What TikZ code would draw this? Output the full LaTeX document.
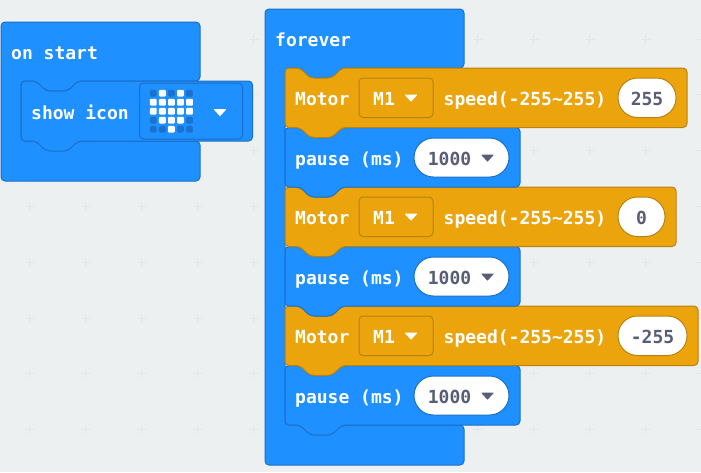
\documentclass[tikz,border=0pt]{standalone}
\usepackage{fontspec}
\setmainfont{DejaVu Sans Mono}[BoldFont={DejaVu Sans Mono Bold}]
\definecolor{bgc}{HTML}{ECF0F1}
\definecolor{plusc}{HTML}{E2E6E8}
\definecolor{bluef}{HTML}{1E90FF}
\definecolor{blued}{HTML}{1A6FC6}
\definecolor{oranf}{HTML}{EBA40C}
\definecolor{orand}{HTML}{B88210}
\definecolor{ledoff}{HTML}{1A72D0}
\definecolor{valc}{HTML}{575E75}
\tikzset{
  x=1pt,y=-1pt,
  blueblock/.style={fill=bluef,draw=blued,line width=1pt,rounded corners=4pt},
  oranblock/.style={fill=oranf,draw=orand,line width=1pt,rounded corners=4pt},
  wtext/.style={text=white,font=\fontsize{18}{20}\selectfont\bfseries,inner sep=0pt,anchor=base west},
  vtext/.style={text=valc,font=\fontsize{18}{20}\selectfont\bfseries,inner sep=0pt,anchor=base},
  dropbox/.style={fill=oranf,draw=orand,line width=1pt,rounded corners=4pt},
  iconbox/.style={fill=bluef,draw=blued,line width=1pt,rounded corners=4pt},
  pill/.style={fill=white,line width=1pt,rounded corners=19.5pt},
  whitetri/.style={fill=white,draw=white,line width=1pt,line join=round},
  darktri/.style={fill=valc,draw=valc,line width=1pt,line join=round},
  plusmark/.style={draw=plusc,line width=0.9pt},
  ledon/.style={fill=white,rounded corners=1pt},
  ledout/.style={fill=ledoff,rounded corners=1.5pt},
}
% stack block: style, left, top, right, bottom
\newcommand{\stackblock}[5]{%
  \path[#1] (#2,#3) -- ++(15,0) -- ++(10,10) -- ++(22,0) -- ++(10,-10) -- (#4,#3) -- (#4,#5)
    -- (#2+57,#5) -- ++(-10,10) -- ++(-22,0) -- ++(-10,-10) -- (#2,#5) -- cycle;}
% C-block: left, top, right, inner left, inner top, inner bottom, bottom
\newcommand{\capblock}[7]{%
  \path[blueblock] (#1,#2) -- (#3,#2) -- (#3,#5) -- (#4+57,#5) -- ++(-10,10) -- ++(-22,0) -- ++(-10,-10)
    -- (#4,#5) -- (#4,#6) -- (#3,#6) -- (#3,#7) -- (#1,#7) -- cycle;}
\newcommand{\droptri}[3]{\path[#1] (#2-5.5,#3-3) -- (#2+5.5,#3-3) -- (#2,#3+3) -- cycle;}
\begin{document}
\begin{tikzpicture}
\useasboundingbox (0,0) rectangle (701,472);
\fill[bgc] (0,0) rectangle (701,472);
\foreach \gx in {29,85,141,197,253,309,365,421,477,533,589,645,701}
  \foreach \gy in {39,94.8,150.6,206.4,262.2,318,373.8,429.6}
    \draw[plusmark] (\gx-4.5,\gy) -- (\gx+4.5,\gy) (\gx,\gy-4.5) -- (\gx,\gy+4.5);

% on start
\capblock{1}{22}{200}{21}{81}{141}{181}
\node[wtext] (onstart) at (11,59) {on start};
\stackblock{blueblock}{21}{81}{252.5}{141}
\node[wtext] (showicon) at (31,119) {show icon};
\path[iconbox] (139.5,83) rectangle (242.5,139);
\foreach \r/\c/\s in {0/0/ledout,0/1/ledon,0/2/ledout,0/3/ledon,0/4/ledout,
  1/0/ledon,1/1/ledon,1/2/ledon,1/3/ledon,1/4/ledon,
  2/0/ledon,2/1/ledon,2/2/ledon,2/3/ledon,2/4/ledon,
  3/0/ledout,3/1/ledon,3/2/ledon,3/3/ledon,3/4/ledout,
  4/0/ledout,4/1/ledout,4/2/ledon,4/3/ledout,4/4/ledout}
  \path[\s] (153.3+9.05*\c-3.4,93.2+9*\r-3.4) rectangle ++(6.8,6.8);
\droptri{whitetri}{220}{112.5}

% forever
\capblock{265}{9}{464}{285}{68}{425}{465}
\node[wtext] (forever) at (275,46) {forever};

% stack, bottom first so that each tab lies over the next notch
\foreach \top/\right/\num/\numx/\pillr in {306/698/-255/652.5/687,187/676/0/641.5/665,68/687/255/647/676}{
  \pgfmathsetmacro{\pausetop}{\top+59.5}
  \pgfmathsetmacro{\pausebot}{\top+119}
  \stackblock{blueblock}{285}{\pausetop}{520}{\pausebot}
  \path[pill,draw=blued] (414,\pausetop+10.5) rectangle (509,\pausetop+49.5);
  \node[wtext] at (295,\top+97) {pause (ms)};
  \node[vtext] at (449.5,\top+97) {1000};
  \droptri{darktri}{487.5}{\top+90}
  \stackblock{oranblock}{285}{\top}{\right}{\top+59.5}
  \path[dropbox] (359,\top+10) rectangle (433,\top+49.5);
  \node[wtext] at (295,\top+37) {Motor};
  \node[wtext] at (373,\top+37) {M1};
  \droptri{whitetri}{411}{\top+30}
  \node[wtext] at (443.5,\top+37) {speed(-255\textasciitilde255)};
  \path[pill,draw=orand] (618,\top+10) rectangle (\pillr,\top+49.5);
  \node[vtext] at (\numx,\top+37) {\num};
}
\end{tikzpicture}
\end{document}
